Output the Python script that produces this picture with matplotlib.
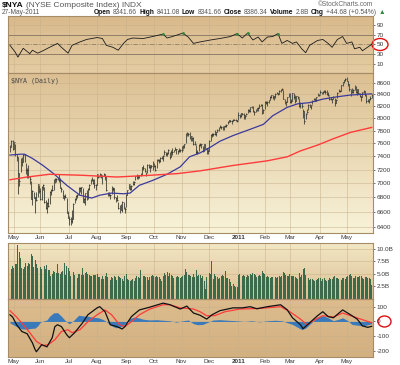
import numpy as np
import pandas as pd
import matplotlib
matplotlib.use("Agg")
import matplotlib.pyplot as plt
from matplotlib.patches import Ellipse
from matplotlib.colors import to_rgb
from matplotlib.ticker import NullLocator

plt.rcParams['font.family'] = ['Liberation Sans', 'DejaVu Sans']

# ---------------- data ----------------
holidays = ['2010-05-31', '2010-07-05', '2010-09-06', '2010-11-25', '2010-12-24',
            '2011-01-17', '2011-02-21', '2011-04-22']
dates = pd.bdate_range('2010-04-28', '2011-05-27', freq='C', holidays=holidays)

close_apr10 = [7542, 7639, 7512]
close_may10 = [7611, 7429, 7380, 7142, 7032, 7341, 7316, 7417, 7326, 7189, 7197, 7095, 7059, 6783, 6885, 6797, 6798, 6760, 6983, 6896]
close_jun10 = [6778, 6953, 6981, 6741, 6650, 6722, 6683, 6880, 6910, 6897, 7059, 7055, 7064, 7074, 7047, 6933, 6912, 6797, 6816, 6802, 6591, 6524]
close_jul10 = [6503, 6473, 6508, 6712, 6775, 6824, 6829, 6933, 6933, 6941, 6741, 6781, 6859, 6771, 6923, 6980, 7058, 7050, 7002, 6973, 6973]
close_aug10 = [7127, 7093, 7135, 7126, 7100, 7139, 7097, 6897, 6859, 6832, 6833, 6916, 6926, 6809, 6784, 6757, 6659, 6680, 6629, 6739, 6640, 6642]
close_sep10 = [6838, 6900, 6991, 6911, 6956, 6990, 7024, 7102, 7097, 7122, 7119, 7125, 7233, 7215, 7180, 7120, 7271, 7230, 7265, 7246, 7224]
close_oct10 = [7255, 7197, 7348, 7343, 7331, 7376, 7376, 7405, 7457, 7430, 7445, 7499, 7380, 7458, 7471, 7489, 7505, 7505, 7485, 7493, 7490]
close_nov10 = [7497, 7556, 7583, 7730, 7760, 7744, 7681, 7714, 7681, 7591, 7582, 7459, 7460, 7575, 7594, 7582, 7474, 7586, 7529, 7519, 7473]
close_dec10 = [7635, 7732, 7752, 7742, 7746, 7775, 7805, 7852, 7852, 7859, 7819, 7868, 7874, 7894, 7942, 7968, 7956, 7960, 7966, 7974, 7963, 7961]
close_jan11 = [8051, 8040, 8081, 8064, 8049, 8038, 8068, 8140, 8126, 8186, 8197, 8114, 8104, 8124, 8171, 8173, 8208, 8226, 8079, 8141]
close_feb11 = [8277, 8254, 8274, 8298, 8350, 8385, 8361, 8368, 8414, 8433, 8406, 8459, 8485, 8501, 8327, 8276, 8268, 8355, 8401]
close_mar11 = [8269, 8282, 8425, 8363, 8293, 8367, 8356, 8198, 8256, 8206, 8114, 7956, 8063, 8097, 8219, 8190, 8213, 8290, 8316, 8294, 8352, 8408, 8392]
close_apr11 = [8434, 8437, 8435, 8454, 8441, 8408, 8384, 8319, 8320, 8321, 8354, 8261, 8309, 8422, 8466, 8452, 8560, 8615, 8650, 8665]
close_may11 = [8640, 8580, 8500, 8410, 8440, 8480, 8550, 8450, 8490, 8420, 8370, 8360, 8440, 8460, 8395, 8290, 8285, 8315, 8342, 8386]

high_apr10 = [7570, 7650, 7655]
high_may10 = [7625, 7590, 7430, 7390, 7150, 7370, 7390, 7430, 7430, 7300, 7220, 7260, 7110, 7030, 6900, 6880, 6800, 6880, 6990, 6980]
high_jun10 = [6930, 6955, 6990, 6940, 6770, 6730, 6790, 6885, 6915, 6980, 7065, 7070, 7080, 7090, 7140, 7080, 6950, 6910, 6830, 6850, 6795, 6610]
high_jul10 = [6540, 6530, 6620, 6715, 6790, 6830, 6845, 6940, 6945, 6950, 6935, 6795, 6865, 6900, 6930, 6985, 7060, 7090, 7060, 7060, 6990]
high_aug10 = [7140, 7125, 7145, 7130, 7110, 7150, 7130, 7090, 6880, 6880, 6850, 6960, 6950, 6930, 6800, 6830, 6740, 6700, 6710, 6745, 6740, 6670]
high_sep10 = [6850, 6905, 6995, 6980, 6975, 7030, 7030, 7110, 7130, 7125, 7125, 7150, 7240, 7260, 7220, 7170, 7275, 7280, 7270, 7270, 7320]
high_oct10 = [7290, 7260, 7360, 7360, 7360, 7380, 7400, 7415, 7490, 7460, 7470, 7505, 7470, 7490, 7520, 7495, 7540, 7510, 7495, 7520, 7505]
high_nov10 = [7550, 7565, 7590, 7760, 7770, 7760, 7770, 7720, 7700, 7690, 7640, 7570, 7490, 7590, 7600, 7590, 7560, 7590, 7580, 7530, 7510]
high_dec10 = [7650, 7740, 7760, 7760, 7810, 7780, 7820, 7860, 7890, 7880, 7870, 7875, 7885, 7910, 7950, 7975, 7970, 7965, 7980, 7990, 7980, 7970]
high_jan11 = [8095, 8070, 8090, 8090, 8080, 8045, 8090, 8145, 8150, 8190, 8205, 8210, 8115, 8160, 8175, 8180, 8230, 8240, 8240, 8145]
high_feb11 = [8285, 8280, 8280, 8300, 8365, 8390, 8385, 8370, 8420, 8440, 8430, 8470, 8490, 8510, 8470, 8330, 8295, 8360, 8420]
high_mar11 = [8420, 8320, 8430, 8425, 8390, 8380, 8380, 8340, 8270, 8250, 8160, 8120, 8080, 8160, 8230, 8230, 8220, 8300, 8340, 8340, 8355, 8420, 8410]
high_apr11 = [8470, 8450, 8460, 8480, 8470, 8480, 8440, 8370, 8360, 8330, 8370, 8340, 8315, 8440, 8490, 8470, 8570, 8625, 8660, 8680]
high_may11 = [8705, 8640, 8590, 8500, 8520, 8500, 8560, 8550, 8495, 8500, 8430, 8370, 8450, 8475, 8460, 8385, 8320, 8330, 8370, 8411]

low_apr10 = [7470, 7545, 7500]
low_may10 = [7515, 7400, 7330, 6850, 6960, 7160, 7250, 7310, 7310, 7130, 7080, 7080, 6990, 6780, 6700, 6790, 6590, 6750, 6800, 6860]
low_jun10 = [6770, 6770, 6910, 6720, 6645, 6590, 6670, 6710, 6830, 6890, 6900, 7010, 7020, 7050, 7020, 6925, 6880, 6790, 6770, 6790, 6580, 6515]
low_jul10 = [6420, 6430, 6450, 6500, 6720, 6770, 6790, 6835, 6880, 6850, 6735, 6720, 6700, 6760, 6780, 6900, 6985, 7030, 6990, 6930, 6900]
low_aug10 = [6980, 7070, 7090, 7080, 6990, 7100, 7040, 6890, 6820, 6825, 6780, 6840, 6890, 6780, 6740, 6750, 6640, 6590, 6620, 6600, 6635, 6590]
low_sep10 = [6660, 6830, 6920, 6905, 6910, 6970, 6980, 7040, 7060, 7060, 7080, 7100, 7120, 7190, 7160, 7100, 7150, 7225, 7170, 7220, 7200]
low_oct10 = [7230, 7180, 7220, 7320, 7290, 7310, 7360, 7330, 7420, 7400, 7400, 7440, 7350, 7390, 7420, 7460, 7500, 7440, 7430, 7470, 7470]
low_nov10 = [7460, 7510, 7520, 7600, 7720, 7715, 7670, 7640, 7630, 7570, 7575, 7440, 7440, 7480, 7550, 7520, 7460, 7480, 7525, 7440, 7430]
low_dec10 = [7480, 7640, 7700, 7720, 7735, 7720, 7780, 7800, 7845, 7830, 7810, 7810, 7850, 7860, 7900, 7940, 7940, 7910, 7950, 7965, 7950, 7930]
low_jan11 = [7975, 8000, 8020, 8050, 7990, 7995, 8045, 8080, 8110, 8110, 8170, 8100, 8060, 8110, 8120, 8120, 8170, 8205, 8070, 8080]
low_feb11 = [8145, 8240, 8210, 8250, 8300, 8340, 8330, 8300, 8340, 8410, 8390, 8410, 8450, 8475, 8320, 8240, 8210, 8270, 8360]
low_mar11 = [8260, 8250, 8290, 8320, 8260, 8280, 8320, 8190, 8170, 8170, 8010, 7900, 7990, 8080, 8140, 8180, 8150, 8230, 8300, 8290, 8280, 8370, 8380]
low_apr11 = [8410, 8415, 8410, 8440, 8410, 8390, 8370, 8300, 8310, 8260, 8320, 8210, 8260, 8340, 8440, 8440, 8455, 8550, 8600, 8640]
low_may11 = [8630, 8540, 8460, 8380, 8420, 8430, 8480, 8420, 8390, 8400, 8350, 8290, 8350, 8430, 8380, 8260, 8270, 8250, 8300, 8342]

# volume in billions
vol_apr10 = [6.8, 6.0, 6.6]
vol_may10 = [6.2, 7.0, 6.9, 10.8, 9.4, 8.2, 6.1, 5.9, 6.3, 7.2, 6.5, 7.1, 7.0, 8.9, 8.6, 6.4, 7.8, 6.9, 6.2, 5.1]
vol_jun10 = [6.4, 6.0, 5.4, 6.6, 5.9, 6.8, 5.7, 5.8, 4.6, 4.9, 5.6, 5.3, 5.1, 6.9, 5.2, 5.0, 5.3, 5.5, 7.2, 4.8, 6.6, 6.2]
vol_jul10 = [5.6, 4.6, 5.0, 5.4, 4.8, 4.1, 4.2, 5.0, 4.9, 4.7, 6.1, 4.7, 5.2, 5.3, 4.9, 4.8, 4.5, 4.6, 4.7, 4.8, 4.7]
vol_aug10 = [4.9, 4.3, 4.4, 4.0, 4.6, 3.9, 4.5, 5.1, 4.4, 4.0, 3.8, 4.3, 4.1, 4.6, 4.4, 3.7, 4.6, 4.3, 4.2, 3.9, 3.6, 4.5]
vol_sep10 = [4.9, 3.9, 3.7, 3.6, 3.8, 3.9, 3.5, 4.2, 4.6, 4.3, 4.1, 5.7, 4.3, 4.6, 4.5, 4.3, 4.4, 3.8, 4.4, 4.5, 4.8]
vol_oct10 = [4.6, 4.3, 4.6, 4.4, 4.3, 4.0, 3.5, 4.5, 5.2, 4.7, 5.3, 4.6, 5.2, 4.8, 4.6, 4.1, 4.4, 4.3, 4.6, 4.3, 4.2]
vol_nov10 = [4.3, 4.6, 4.8, 6.0, 5.4, 4.7, 4.8, 4.6, 4.3, 5.0, 4.4, 5.8, 4.6, 4.8, 4.7, 4.2, 4.6, 3.6, 1.9, 4.4, 5.1]
vol_dec10 = [5.2, 4.9, 7.6, 4.0, 4.9, 4.6, 4.3, 4.0, 4.2, 4.6, 4.7, 4.6, 5.6, 4.2, 4.1, 4.0, 3.3, 2.6, 2.9, 2.5, 2.3, 2.4]
vol_jan11 = [4.7, 4.9, 4.8, 4.6, 4.7, 4.5, 4.4, 4.8, 4.6, 5.0, 4.7, 5.2, 5.0, 4.7, 4.4, 4.5, 4.8, 4.6, 5.5, 5.1]
vol_feb11 = [5.0, 4.4, 4.5, 4.4, 4.2, 4.4, 4.3, 4.6, 4.3, 4.1, 4.3, 4.5, 4.4, 4.6, 5.3, 5.2, 4.7, 4.5, 4.6]
vol_mar11 = [5.0, 4.6, 4.6, 4.5, 4.3, 4.2, 4.0, 5.2, 4.4, 4.7, 5.9, 6.1, 4.8, 6.0, 4.2, 3.8, 3.9, 3.9, 3.7, 3.5, 3.8, 4.0, 4.1]
vol_apr11 = [4.1, 3.6, 3.9, 4.1, 3.8, 3.6, 3.7, 4.2, 3.9, 4.0, 4.3, 4.5, 4.1, 4.2, 3.9, 3.4, 3.7, 4.1, 4.2, 4.0]
vol_may11 = [4.3, 4.6, 4.7, 5.0, 4.6, 4.1, 4.2, 4.5, 4.3, 4.4, 4.6, 4.5, 4.2, 4.0, 4.3, 4.4, 4.2, 4.1, 3.9, 2.8]

closes = (close_apr10 + close_may10 + close_jun10 + close_jul10 + close_aug10 + close_sep10 + close_oct10
          + close_nov10 + close_dec10 + close_jan11 + close_feb11 + close_mar11 + close_apr11 + close_may11)
highs = (high_apr10 + high_may10 + high_jun10 + high_jul10 + high_aug10 + high_sep10 + high_oct10
         + high_nov10 + high_dec10 + high_jan11 + high_feb11 + high_mar11 + high_apr11 + high_may11)
lows = (low_apr10 + low_may10 + low_jun10 + low_jul10 + low_aug10 + low_sep10 + low_oct10
        + low_nov10 + low_dec10 + low_jan11 + low_feb11 + low_mar11 + low_apr11 + low_may11)
volumes = (vol_apr10 + vol_may10 + vol_jun10 + vol_jul10 + vol_aug10 + vol_sep10 + vol_oct10
           + vol_nov10 + vol_dec10 + vol_jan11 + vol_feb11 + vol_mar11 + vol_apr11 + vol_may11)

# moving averages (trading-day index, value)
ma50_idx = [0, 8, 11, 17, 25, 33, 43, 53, 62, 68, 77, 86, 91, 98, 108, 119, 129, 136, 144, 152, 159, 169,
            182, 192, 199, 210, 218, 227, 237, 248, 258, 274]
ma50_val = [7417, 7430, 7430, 7366, 7260, 7140, 6970, 6830, 6790, 6830, 6860, 6850, 6860, 6970, 7040, 7130,
            7240, 7390, 7450, 7540, 7630, 7720, 7820, 7900, 8040, 8180, 8240, 8260, 8320, 8360, 8390, 8410]
ma200_idx = [0, 13, 30, 55, 81, 106, 127, 144, 169, 195, 210, 220, 233, 245, 258, 274]
ma200_val = [7050, 7090, 7130, 7115, 7090, 7115, 7140, 7180, 7260, 7330, 7390, 7480, 7570, 7670, 7770, 7850]

# RSI(14)
rsi_idx = [0, 4, 6, 10, 15, 17, 21, 25, 30, 36, 39, 44, 47, 53, 58, 66, 70, 73, 78, 82, 86, 89, 93, 101,
           108, 116, 119, 123, 131, 135, 139, 144, 152, 159, 167, 172, 176, 180, 184, 188, 191, 195, 199,
           203, 206, 210, 214, 217, 221, 224, 227, 233, 237, 241, 244, 248, 252, 255, 259, 261, 265, 267, 274]
rsi_val = [48, 34, 24, 42, 31, 38, 32, 37, 44, 52, 44, 32, 48, 55, 60, 64, 62, 48, 44, 38, 52, 60, 63, 62,
           66, 71, 63, 66, 73, 65, 52, 55, 59, 62, 66, 72, 63, 73, 59, 65, 55, 65, 66,
           72, 52, 58, 52, 55, 41, 33, 48, 58, 60, 52, 44, 60, 66, 52, 55, 41, 44, 37, 50]

# MACD(12,26,9)
macd_idx = [0, 2, 5, 9, 13, 17, 19, 20, 23, 24, 28, 32, 34, 36, 39, 43, 45, 49, 55, 59, 66, 68, 72, 76, 81,
            85, 87, 92, 98, 106, 116, 121, 129, 134, 139, 144, 149, 153, 159, 169, 176, 182, 187, 195, 205,
            210, 214, 220, 222, 227, 233, 237, 241, 245, 252, 258, 263, 267, 271, 274]
macd_val = [45, 30, -22, -68, -83, -145, -190, -205, -170, -157, -172, -110, -35, -22, -35, -90, -110, -76,
            -9, 45, 92, 100, 66, -22, -35, -51, -35, 33, 78, 97, 124, 114, 84, 104, 57, 42, 16, 45, 73, 92,
            92, 100, 86, 100, 113, 79, 25, -22, -49, -9, 39, 66, 33, 25, 78, 45, 16, -30, -40, -33]
signal_idx = [0, 5, 10, 15, 20, 25, 29, 34, 39, 44, 47, 53, 59, 66, 72, 77, 83, 87, 92, 98, 106, 116, 121,
              129, 139, 144, 149, 155, 163, 174, 189, 205, 212, 220, 225, 231, 237, 245, 252, 261, 274]
signal_val = [73, 30, -22, -76, -135, -163, -157, -124, -68, -56, -76, -56, -2, 45, 78, 45, -22, -35, -2, 45,
              84, 113, 113, 92, 84, 66, 39, 39, 66, 84, 88, 100, 66, 16, -22, 12, 39, 30, 57, 30, -9]
hist_idx = [0, 2, 5, 9, 13, 15, 19, 21, 23, 26, 28, 30, 33, 36, 39, 42, 44, 45, 48, 52, 55, 59, 63, 67, 70,
            73, 76, 80, 83, 86, 88, 91, 94, 97, 101, 106, 111, 116, 121, 126, 130, 135, 139, 142, 146, 150,
            154, 159, 165, 171, 178, 183, 189, 195, 201, 206, 210, 214, 218, 221, 224, 227, 230, 233, 237,
            241, 245, 249, 252, 256, 259, 263, 267, 270, 274]
hist_val = [-10, -20, -35, -50, -52, -48, -45, -30, -5, 5, 10, 35, 58, 60, 35, 5, -10, -15, 5, 42, 38, 35,
            28, 25, 15, 0, -25, -42, -40, -25, -5, 20, 30, 25, 15, 10, 12, 8, 5, -5, 3, 10, -15, -22, -20,
            -5, 10, 12, 8, 5, 0, 5, -3, 5, 8, 5, -8, -20, -40, -55, -45, -20, 5, 30, 40, 25, 5, 15, 25, 5,
            -20, -25, -30, -25, -15]

price_ticks = [6400, 6600, 6800, 7000, 7200, 7400, 7600, 7800, 8000, 8200, 8400, 8600]
rsi_ticks = [10, 30, 50, 70, 90]
vol_ticks = [2.5, 5.0, 7.5, 10.0]
vol_labels = ['2.5B', '5.0B', '7.5B', '10.0B']
macd_ticks = [-200, -100, 0, 100]
macd_labels = ['-200', '-100', '0', '100']

# ---------------- drawing ----------------
n = min(len(dates), len(closes), len(highs), len(lows), len(volumes))
xs = np.arange(n)
closes, highs, lows, volumes = (np.array(a[:n], float) for a in (closes, highs, lows, volumes))

month_pos = [i for i in range(1, n) if dates[i].month != dates[i - 1].month]
month_lab = ['2011' if dates[i].month == 1 else dates[i].strftime('%b') for i in month_pos]

W, H = 400, 365
fig = plt.figure(figsize=(W / 100, H / 100), dpi=100)
fig.patch.set_facecolor('white')


def frect(x0, y0, x1, y1):
    return [x0 / W, 1 - y1 / H, (x1 - x0) / W, (y1 - y0) / H]


LAB = 4.6
TXT = '#3a3a3a'


def panel(r, top, bot, show_months=False):
    bg = fig.add_axes(r, zorder=0)
    t = np.linspace(0, 1, 200)[:, None, None]
    img = np.array(to_rgb(top)) * (1 - t) + np.array(to_rgb(bot)) * t
    bg.imshow(img, aspect='auto', extent=[0, 1, 0, 1], origin='upper')
    bg.set_axis_off()
    ax = fig.add_axes(r, zorder=1)
    ax.patch.set_alpha(0)
    for s in ax.spines.values():
        s.set_color('#a68d68')
        s.set_linewidth(0.8)
    ax.set_xlim(-1.5, 275)
    ax.set_xticks(month_pos)
    ax.set_xticklabels(month_lab)
    ax.tick_params(axis='x', length=0, labelbottom=show_months, pad=1.5, labelsize=LAB, colors=TXT)
    ax.tick_params(axis='y', which='both', left=False, labelleft=False, right=True, labelright=True,
                   length=1.5, width=0.5, pad=1.0, labelsize=LAB, colors=TXT)
    ax.grid(True, color='#c7b08a', lw=0.5, alpha=0.7)
    ax.set_axisbelow(True)
    if show_months:
        for tl in ax.get_xticklabels():
            if tl.get_text() == '2011':
                tl.set_fontweight('bold')
    return ax


# RSI panel
ax_r = panel(frect(8, 15.5, 373, 73), '#d8b98b', '#e5cca3')
ax_r.set_ylim(-8.5, 109)
ax_r.set_yticks(rsi_ticks, labels=[str(v) for v in rsi_ticks])
ax_r.axhline(70, color='#8f8068', lw=0.7)
ax_r.axhline(30, color='#8f8068', lw=0.7)
ax_r.axhline(50, color='#8f8068', lw=0.6, ls=(0, (5, 2, 1, 2)))
ax_r.plot(rsi_idx, rsi_val, color='#1a1a1a', lw=0.6)
ob = [(i, v) for i, v in zip(rsi_idx, rsi_val) if v > 70]
ax_r.plot([i for i, _ in ob], [v for _, v in ob], 'o', ms=2, color='#2f8a3a', mec='none')

# Price panel
ax_p = panel(frect(8, 73, 373, 233), '#dcbf92', '#f8f3d9', show_months=True)
ax_p.set_yscale('log')
ax_p.vlines(xs, lows, highs, color='#5a5a4c', lw=0.75)
ax_p.hlines(closes, xs, xs + 0.7, color='#222222', lw=0.6)
ax_p.plot(ma50_idx, ma50_val, color='#3b3a9c', lw=0.9)
ax_p.plot(ma200_idx, ma200_val, color='#ff3b3b', lw=1.0)
ax_p.set_ylim(6320, 8778)
ax_p.set_yticks(price_ticks, labels=[str(v) for v in price_ticks])
ax_p.yaxis.set_minor_locator(NullLocator())
ax_p.text(0.008, 0.972, '$NYA (Daily)', transform=ax_p.transAxes, fontsize=4.8, color='#444444',
          va='top', ha='left', parse_math=False, family=['DejaVu Sans Mono', 'DejaVu Sans'])

# Volume panel
ax_v = panel(frect(8, 243, 373, 299), '#f3e8c6', '#dbbf93')
ax_v.bar(xs, volumes, width=0.72, color='#3c6b4b', edgecolor='none')
ax_v.set_ylim(-0.1, 11.2)
ax_v.set_yticks(vol_ticks, labels=vol_labels)

# MACD panel
ax_m = panel(frect(8, 299, 373, 357), '#dcbc8e', '#d3b080', show_months=True)
ax_m.fill_between(hist_idx, 0, hist_val, color='#3a7aba', lw=0)
ax_m.plot(signal_idx, signal_val, color='#ff3b3b', lw=0.9)
ax_m.plot(macd_idx, macd_val, color='#111111', lw=0.9)
ax_m.set_ylim(-240.6, 152)
ax_m.set_yticks(macd_ticks, labels=macd_labels)

# ---------------- header text ----------------
renderer = fig.canvas.get_renderer()


def chain(items, x_px, y_px, size, gap=2.2):
    x = x_px
    for s, bold, col in items:
        t = fig.text(x / W, 1 - y_px / H, s, fontsize=size, fontweight='bold' if bold else 'normal',
                     color=col, va='center', ha='left', parse_math=False)
        x += t.get_window_extent(renderer=renderer).width + gap
    return x


chain([('$NYA', True, '#111111'), ('(NYSE Composite Index) INDX', False, '#555555')], 2, 5.5, 6.0)
fig.text(2 / W, 1 - 13 / H, '27-May-2011', fontsize=4.8, color='#555555', va='center', ha='left')
chain([('Open', True, '#111111'), ('8341.66', False, '#555555'),
       ('High', True, '#111111'), ('8411.08', False, '#555555'),
       ('Low', True, '#111111'), ('8341.66', False, '#555555'),
       ('Close', True, '#111111'), ('8386.34', False, '#555555'),
       ('Volume', True, '#111111'), ('2.8B', False, '#555555'),
       ('Chg', True, '#111111'), ('+44.68 (+0.54%)', False, '#555555'),
       ('\u25b2', False, '#2f8a3a')], 94, 13, 4.8)
fig.text(373 / W, 1 - 5 / H, '\u00a9StockCharts.com', fontsize=4.8, color='#666666', va='center', ha='right')

# red circles around the 50 and 0 labels
fig.add_artist(Ellipse((380 / W, 1 - 44.5 / H), 16 / W, 12 / H, transform=fig.transFigure,
                       fill=False, ec='#e01010', lw=1.0))
fig.add_artist(Ellipse((384.5 / W, 1 - 321.5 / H), 13 / W, 11 / H, transform=fig.transFigure,
                       fill=False, ec='#e01010', lw=1.0))

fig.savefig('out.png', dpi=100, facecolor='white')
